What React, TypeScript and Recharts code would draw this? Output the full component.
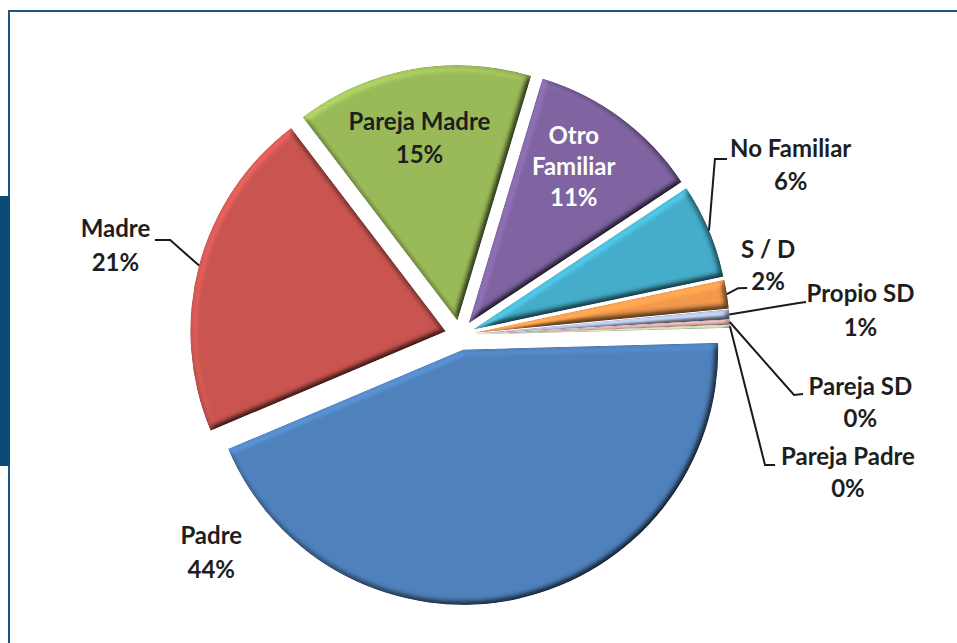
import { PieChart, Pie, Cell } from 'recharts';

// who the child lives with, share of cases (%)
const categories = [
  'Padre',
  'Madre',
  'Pareja Madre',
  'Otro Familiar',
  'No Familiar',
  'S / D',
  'Propio SD',
  'Pareja SD',
  'Pareja Padre',
];
const shares = [44, 21, 15, 11, 6, 1.8, 0.6, 0.3, 0.2];

const colors = [
  '#4F81BD',
  '#CB5550',
  '#9BBB59',
  '#8064A2',
  '#45AECB',
  '#F39A4C',
  '#B3C3E2',
  '#E0B0AF',
  '#D4E3B8',
];

const W = 957;
const H = 643;
const CX = 455;
const CY = 330;
const RADIUS = 255;
const EXPLODE = 15;
const START = 1.5;
const FONT = 'Lato, "Open Sans", sans-serif';

// label placement, polar offsets from each exploded slice centre
type LabelLayout = {
  angle: number;
  r: number;
  lines: number;
  gap: number;
  fill: string;
  leader?: [number, number][];
};

const labelLayout: LabelLayout[] = [
  { angle: 219.4, r: 326, lines: 1, gap: 34, fill: '#1e1e1e' },
  { angle: 166.1, r: 340, lines: 1, gap: 34, fill: '#1e1e1e', leader: [[161.7, 290], [162.6, 304.5]] },
  { angle: 102, r: 182, lines: 1, gap: 33, fill: '#1e1e1e' },
  { angle: 55.5, r: 185, lines: 2, gap: 31, fill: '#ffffff' },
  { angle: 26.8, r: 355, lines: 1, gap: 33, fill: '#1e1e1e', leader: [[35.2, 295], [33.9, 305]] },
  { angle: 12.2, r: 300, lines: 1, gap: 32, fill: '#1e1e1e', leader: [[9.6, 267], [9.3, 276]] },
  { angle: 2.8, r: 386, lines: 1, gap: 34, fill: '#1e1e1e', leader: [[5.44, 323.6], [5.47, 332.6]] },
  { angle: -10.55, r: 392, lines: 1, gap: 32, fill: '#1e1e1e', leader: [[-10.77, 324.7], [-10.32, 333.4]] },
  { angle: -20.8, r: 399, lines: 1, gap: 32, fill: '#1e1e1e', leader: [[-24.2, 318], [-23.5, 327.2]] },
];

const rows = categories.map((name, i) => ({ name, value: shares[i] }));
const total = shares.reduce((a, b) => a + b, 0);

const RAD = Math.PI / 180;
const polar = (cx: number, cy: number, r: number, angle: number) => ({
  x: cx + r * Math.cos(angle * RAD),
  y: cy - r * Math.sin(angle * RAD),
});

// middle angle of each slice, going clockwise from START
const midAngles = (() => {
  let acc = 0;
  return shares.map((v) => {
    const sweep = (v / total) * 360;
    const mid = START - acc - sweep / 2;
    acc += sweep;
    return mid;
  });
})();

const makeLabel = (k: number) => (props: any) => {
  const { cx, cy, midAngle, outerRadius, percent, index, name } = props;
  if (index !== k) return null;
  const lay = labelLayout[k];
  const words = lay.lines === 2 ? name.split(' ') : [name];
  const texts = [...words, `${Math.round(percent * 100)}%`];
  const c = polar(cx, cy, lay.r, lay.angle);
  const top = c.y - ((texts.length - 1) * lay.gap) / 2 - 5;

  let path = '';
  if (lay.leader) {
    const pts = [polar(cx, cy, outerRadius, midAngle), ...lay.leader.map(([a, r]) => polar(cx, cy, r, a))];
    path = pts.map((p, i) => `${i ? 'L' : 'M'}${p.x.toFixed(1)},${p.y.toFixed(1)}`).join(' ');
  }

  return (
    <g>
      {path && <path d={path} fill="none" stroke="#1a1a1a" strokeWidth={2} />}
      {texts.map((t, i) => (
        <text
          key={i}
          x={c.x}
          y={top + i * lay.gap}
          textAnchor="middle"
          dominantBaseline="central"
          fill={lay.fill}
          fontFamily={FONT}
          fontWeight={700}
          fontSize={24}
        >
          {t}
        </text>
      ))}
    </g>
  );
};

export default function App() {
  return (
    <div
      style={{
        position: 'absolute',
        left: 0,
        top: 0,
        width: W,
        height: H,
        background: '#ffffff',
        overflow: 'hidden',
      }}
    >
      <style>{`.recharts-pie-sector path { filter: url(#bevel); }`}</style>
      <svg width={0} height={0} style={{ position: 'absolute' }}>
        <defs>
          <filter id="bevel" x="-5%" y="-5%" width="110%" height="110%" colorInterpolationFilters="sRGB">
            <feGaussianBlur in="SourceAlpha" stdDeviation="3" result="blur" />
            <feDiffuseLighting in="blur" surfaceScale="4" diffuseConstant="1" lightingColor="#ffffff" result="light">
              <feDistantLight azimuth="225" elevation="60" />
            </feDiffuseLighting>
            <feComposite in="SourceGraphic" in2="light" operator="arithmetic" k1="1.15" k2="0" k3="0" k4="0" />
          </filter>
        </defs>
      </svg>
      <div
        style={{
          position: 'absolute',
          left: 8,
          top: 10,
          width: W,
          height: H,
          borderTop: '2px solid #1A5584',
          borderLeft: '2px solid #1A5584',
        }}
      />
      <div style={{ position: 'absolute', left: 0, top: 196, width: 10, height: 270, background: '#0C4A78' }} />
      <div style={{ position: 'absolute', left: 0, top: 0 }}>
        <PieChart width={W} height={H}>
          {categories.map((_, k) => (
            <Pie
              key={k}
              data={rows}
              dataKey="value"
              nameKey="name"
              cx={CX + EXPLODE * Math.cos(midAngles[k] * RAD)}
              cy={CY - EXPLODE * Math.sin(midAngles[k] * RAD)}
              outerRadius={RADIUS}
              startAngle={START}
              endAngle={START - 360}
              isAnimationActive={false}
              labelLine={false}
              label={makeLabel(k)}
            >
              {rows.map((_, i) => (
                <Cell key={i} fill={i === k ? colors[i] : 'none'} stroke="none" />
              ))}
            </Pie>
          ))}
        </PieChart>
      </div>
    </div>
  );
}
